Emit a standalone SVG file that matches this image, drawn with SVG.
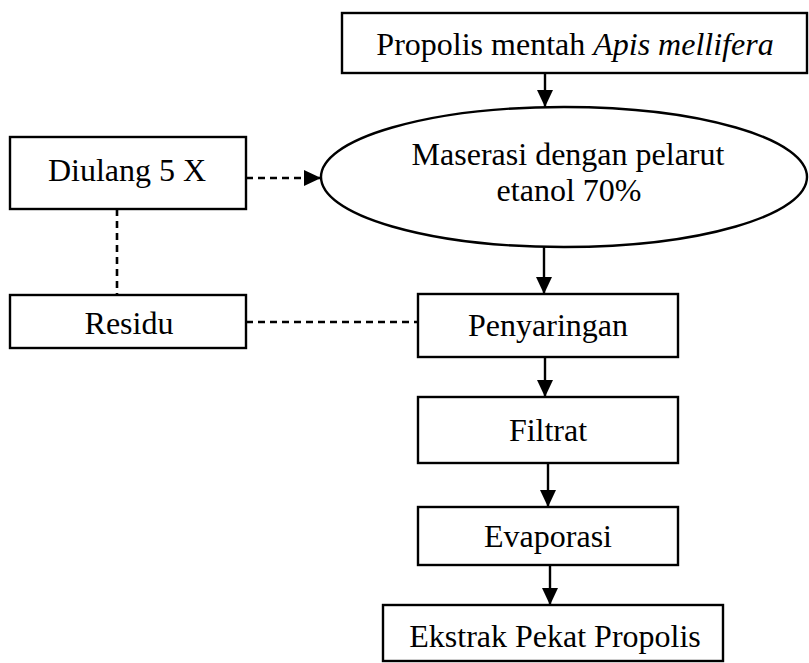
<svg xmlns="http://www.w3.org/2000/svg" width="809" height="663" viewBox="0 0 809 663">
<style>
.box{fill:#fff;stroke:#000;stroke-width:2.4}
.t{font-family:"Liberation Serif","Times New Roman",serif;font-size:32px;fill:#000;text-anchor:middle}
.ln{stroke:#000;stroke-width:2.4;fill:none}
.dash{stroke:#000;stroke-width:2.6;fill:none;stroke-dasharray:7 5}
</style>
<defs>
<marker id="ah" markerUnits="userSpaceOnUse" markerWidth="18" markerHeight="18" viewBox="0 0 18 18" refX="17" refY="9" orient="auto">
<path d="M0,1 L17,9 L0,17 Z" fill="#000"/>
</marker>
</defs>
<rect width="809" height="663" fill="#fff"/>
<g id="connectors">
<line class="ln" x1="545" y1="73" x2="545" y2="107" marker-end="url(#ah)"/>
<line class="ln" x1="544" y1="247" x2="544" y2="294" marker-end="url(#ah)"/>
<line class="ln" x1="545" y1="357" x2="545" y2="397" marker-end="url(#ah)"/>
<line class="ln" x1="548" y1="463" x2="548" y2="507" marker-end="url(#ah)"/>
<line class="ln" x1="550" y1="565" x2="550" y2="605" marker-end="url(#ah)"/>
<line class="dash" x1="246" y1="178" x2="321" y2="178" marker-end="url(#ah)"/>
<line class="dash" x1="117" y1="209" x2="117" y2="295"/>
<line class="dash" x1="246" y1="322" x2="418" y2="322"/>
</g>
<g id="propolis">
<rect class="box" x="342" y="13" width="465" height="60"/>
<text class="t" x="575" y="55">Propolis mentah <tspan font-style="italic">Apis mellifera</tspan></text>
</g>
<g id="maserasi">
<ellipse class="box" cx="564" cy="177" rx="243" ry="70"/>
<text class="t" x="568" y="165">Maserasi dengan pelarut</text>
<text class="t" x="569" y="201">etanol 70%</text>
</g>
<g id="diulang">
<rect class="box" x="10" y="137" width="236" height="72"/>
<text class="t" x="127" y="181">Diulang 5 X</text>
</g>
<g id="residu">
<rect class="box" x="10" y="295" width="236" height="53"/>
<text class="t" x="129" y="334">Residu</text>
</g>
<g id="penyaringan">
<rect class="box" x="418" y="294" width="260" height="63"/>
<text class="t" x="548" y="336">Penyaringan</text>
</g>
<g id="filtrat">
<rect class="box" x="418" y="397" width="260" height="66"/>
<text class="t" x="548" y="441">Filtrat</text>
</g>
<g id="evaporasi">
<rect class="box" x="418" y="507" width="260" height="58"/>
<text class="t" x="548" y="547">Evaporasi</text>
</g>
<g id="ekstrak">
<rect class="box" x="383" y="605" width="340" height="56"/>
<text class="t" x="555" y="647">Ekstrak Pekat Propolis</text>
</g>
</svg>
